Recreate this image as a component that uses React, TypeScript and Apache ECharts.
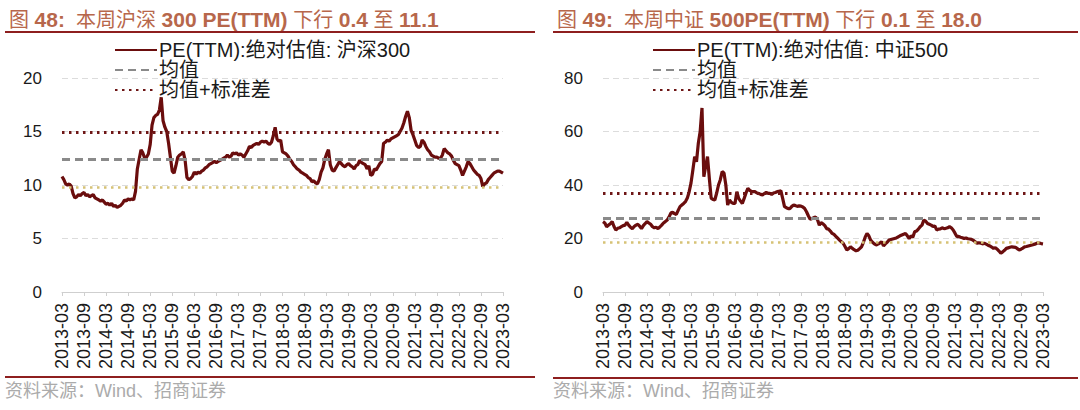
import React, { useEffect, useRef } from "react";
import * as echarts from "echarts";

// semi-monthly observations, 2013-03 .. 2023-03
const months: string[] = [];
for (let y = 2013; y <= 2023; y++) {
  for (let m = 1; m <= 12; m++) {
    if (y === 2013 && m < 3) continue;
    if (y === 2023 && m > 3) continue;
    const mm = (m < 10 ? "0" : "") + m;
    months.push(`${y}-${mm}-01`);
    if (!(y === 2023 && m === 3)) months.push(`${y}-${mm}-16`);
  }
}
const dates = months;

const hs300: number[] = [
  // 2013 Mar-Dec
  10.8, 10.5, 10.1, 10.0, 10.1, 9.9, 9.2, 8.8, 8.9, 9.1, 9.0, 9.2, 9.3, 9.0, 9.1, 8.9, 9.0, 9.1, 8.8, 8.7,
  // 2014
  8.6, 8.5, 8.6, 8.4, 8.2, 8.3, 8.1, 8.3, 8.0, 8.1, 7.9, 8.0, 8.1, 8.3, 8.6, 8.5, 8.7, 8.6, 8.7, 8.6, 9.4, 11.5, 12.4, 13.3,
  // 2015
  13.0, 12.5, 12.6, 12.9, 13.8, 15.6, 16.3, 16.5, 16.6, 17.0, 18.2, 16.0, 15.4, 15.0, 13.9, 12.6, 11.3, 11.1, 11.8, 12.6, 12.8, 12.9, 13.1, 12.3,
  // 2016
  10.7, 10.5, 10.6, 10.8, 11.2, 11.0, 11.2, 11.1, 11.3, 11.4, 11.6, 11.7, 11.9, 12.0, 12.1, 12.2, 12.1, 12.2, 12.3, 12.4, 12.5, 12.6, 12.8, 12.6,
  // 2017
  12.7, 13.0, 12.9, 13.0, 12.8, 12.9, 12.8, 12.6, 12.9, 13.2, 13.6, 13.5, 13.7, 13.8, 13.9, 13.8, 14.0, 14.1, 14.0, 14.1, 13.9, 13.8, 14.0, 14.6,
  // 2018
  15.4, 14.3, 14.1, 14.2, 13.1, 13.0, 12.9, 12.7, 12.4, 12.2, 11.9, 11.7, 11.5, 11.4, 11.2, 11.1, 11.0, 10.9, 10.7, 10.6, 10.3, 10.4, 10.2, 10.1,
  // 2019
  10.5, 11.2, 11.6, 12.4, 12.9, 13.3, 11.9, 11.4, 11.3, 11.6, 11.9, 12.2, 12.0, 11.8, 11.7, 11.9, 12.0, 11.8, 11.7, 11.5, 11.8, 11.9, 12.3, 12.1,
  // 2020
  12.0, 11.9, 11.5, 11.8, 10.9, 11.0, 11.5, 11.4, 11.7, 12.0, 12.2, 13.9, 14.0, 14.2, 14.1, 14.3, 14.4, 14.5, 14.6, 14.7, 15.0, 15.3, 15.8, 16.4,
  // 2021
  16.9, 16.3, 15.1, 14.7, 14.2, 13.7, 13.5, 13.6, 14.2, 14.0, 13.6, 13.3, 13.1, 12.8, 12.7, 12.6, 12.6, 12.5, 12.5, 12.8, 13.4, 13.2, 13.0, 12.9,
  // 2022
  12.7, 12.3, 12.0, 11.9, 11.8, 11.4, 10.9, 11.3, 11.7, 12.2, 12.0, 11.7, 11.4, 11.2, 11.0, 10.9, 10.6, 9.85, 10.1, 10.2, 10.5, 10.7, 10.9, 11.1,
  // 2023 Jan-Mar
  11.2, 11.3, 11.3, 11.2, 11.1,
];

const zz500: number[] = [
  // 2013 Mar-Dec
  26.3, 25.8, 24.4, 25.0, 25.5, 26.3, 24.5, 23.2, 23.8, 24.0, 24.4, 24.8, 25.0, 26.0, 25.0, 24.2, 23.7, 24.5, 25.0, 25.3,
  // 2014
  24.6, 23.7, 24.8, 25.6, 26.3, 25.8, 25.3, 24.4, 24.0, 24.2, 23.7, 24.3, 25.0, 25.8, 26.3, 26.9, 28.0, 29.5, 29.8, 29.3, 29.0, 30.5, 31.9, 32.5,
  // 2015
  33.1, 33.8, 35.1, 37.5, 40.7, 45.5, 50.6, 48.7, 55.6, 60.0, 68.8, 43.1, 47.0, 50.6, 42.5, 35.1, 34.6, 34.4, 37.0, 40.0, 42.0, 45.0, 44.5, 40.0,
  // 2016
  32.5, 34.4, 33.5, 33.1, 33.1, 37.5, 35.0, 34.0, 33.1, 35.0, 37.0, 38.8, 38.0, 37.6, 37.5, 37.5, 37.0, 36.8, 36.5, 36.3, 36.8, 37.2, 36.9, 36.9,
  // 2017
  36.5, 37.0, 37.2, 37.5, 37.6, 37.9, 35.0, 31.9, 31.5, 31.2, 31.2, 32.0, 32.5, 32.3, 32.0, 32.2, 32.1, 31.8, 31.2, 30.0, 28.5, 27.2, 27.5, 27.8,
  // 2018
  28.0, 27.0, 25.0, 25.9, 25.5, 24.8, 23.7, 23.5, 22.8, 21.9, 21.5, 20.8, 20.1, 19.4, 18.8, 18.2, 17.0, 15.7, 16.2, 16.9, 16.3, 15.8, 15.4, 15.6,
  // 2019
  16.2, 16.9, 18.5, 20.5, 21.9, 21.0, 19.4, 18.6, 18.0, 17.6, 17.9, 18.3, 18.8, 17.2, 18.0, 18.6, 19.4, 19.6, 19.8, 20.0, 20.2, 20.6, 21.0, 21.3,
  // 2020
  21.6, 21.9, 21.0, 20.0, 21.0, 20.5, 22.5, 22.8, 23.5, 24.4, 25.0, 26.9, 26.5, 25.6, 25.3, 25.0, 24.5, 24.7, 23.2, 23.5, 23.6, 24.0, 23.7, 23.8,
  // 2021
  24.0, 24.4, 24.0, 23.2, 22.0, 20.7, 20.8, 20.5, 20.3, 20.0, 20.2, 19.9, 19.8, 19.7, 19.3, 18.8, 18.2, 18.4, 18.3, 18.0, 18.2, 17.9, 17.5, 17.2,
  // 2022
  16.8, 16.3, 16.6, 16.0, 15.3, 14.5, 15.0, 15.6, 16.3, 16.5, 16.7, 16.9, 16.8, 16.7, 16.2, 15.7, 16.0, 16.4, 16.9, 17.0, 17.2, 17.4, 17.6, 17.8,
  // 2023 Jan-Mar
  18.0, 18.4, 18.3, 18.1, 18.0,
];

const HS_MEAN = 12.4;
const HS_MEAN_PLUS = 14.95;
const HS_MEAN_MINUS = 9.8;
const ZZ_MEAN = 27.75;
const ZZ_MEAN_PLUS = 36.9;
const ZZ_MEAN_MINUS = 18.75;

const hsYTicks = { min: 0, max: 20, interval: 5 };
const zzYTicks = { min: 0, max: 80, interval: 20 };

const NAME_HS = "PE(TTM):绝对估值: 沪深300";
const NAME_ZZ = "PE(TTM):绝对估值: 中证500";
const NAME_MEAN = "均值";
const NAME_PLUS = "均值+标准差";

const FONT = '"Liberation Sans", Arial, "Noto Sans CJK SC", sans-serif';
const MAIN = "#6a0d0d";
const GREY = "#8a8a8a";
const DOT_RED = "#6e1616";
const DOT_YEL = "#d6c276";
const TITLE_C = "#b7674b";
const RULE = "#8e1f1f";

export default function App() {
  const ref = useRef<HTMLDivElement>(null);
  useEffect(() => {
    if (!ref.current) return;
    const chart = echarts.init(ref.current, undefined, { renderer: "svg" });

    const titleRich = {
      n: { fontFamily: FONT, fontSize: 20, color: TITLE_C, fontWeight: "normal" },
      b: { fontFamily: FONT, fontSize: 21, color: TITLE_C, fontWeight: "bold" },
    };

    const xAxisBase = (gridIndex: number) => ({
      type: "category",
      gridIndex,
      data: dates,
      boundaryGap: false,
      axisLine: { show: true, lineStyle: { color: "#cfcfcf", width: 1 } },
      axisTick: { show: true, interval: 11, length: 4, lineStyle: { color: "#cfcfcf" } },
      axisLabel: {
        interval: 11,
        rotate: 90,
        margin: 11,
        fontSize: 18,
        fontFamily: FONT,
        color: "#1a1a1a",
        formatter: (v: string) => v.slice(0, 7),
      },
      splitLine: { show: false },
    });

    const yAxisBase = (gridIndex: number, t: { min: number; max: number; interval: number }) => ({
      type: "value",
      gridIndex,
      min: t.min,
      max: t.max,
      interval: t.interval,
      axisLine: { show: false },
      axisTick: { show: false },
      axisLabel: { fontSize: 17, fontFamily: FONT, color: "#1a1a1a", margin: 20 },
      splitLine: { show: true, lineStyle: { color: "#dcdcdc", type: [6, 4], width: 1 } },
    });

    const refLine = (
      name: string,
      idx: number,
      value: number,
      color: string,
      type: any,
      width: number
    ) => ({
      name,
      type: "line",
      xAxisIndex: idx,
      yAxisIndex: idx,
      data: [],
      symbol: "none",
      lineStyle: { color, type, width },
      itemStyle: { color },
      markLine: {
        silent: true,
        symbol: ["none", "none"],
        label: { show: false },
        lineStyle: { color, type, width },
        data: [{ yAxis: value }],
      },
    });

    const legendBase = (left: number, data: string[]) => ({
      orient: "vertical",
      left,
      top: 35,
      itemWidth: 42,
      itemHeight: 14,
      itemGap: 0,
      itemStyle: { opacity: 0 },
      textStyle: { fontSize: 20, fontFamily: FONT, color: "#1a1a1a", lineHeight: 20, padding: [0, 0, 0, -3] },
      data,
    });

    chart.setOption({
      animation: false,
      title: [
        {
          left: 4,
          top: 4,
          text: "{n|图 }{b|48:}{n|  本周沪深 }{b|300 PE(TTM)}{n| 下行 }{b|0.4}{n| 至 }{b|11.1}",
          textStyle: { rich: titleRich },
        },
        {
          left: 552,
          top: 4,
          text: "{n|图 }{b|49:}{n|  本周中证 }{b|500PE(TTM)}{n| 下行 }{b|0.1}{n| 至 }{b|18.0}",
          textStyle: { rich: titleRich },
        },
      ],
      graphic: [
        { type: "line", shape: { x1: 5, y1: 32, x2: 535, y2: 32 }, style: { stroke: RULE, lineWidth: 2 } },
        { type: "line", shape: { x1: 553, y1: 32, x2: 1078, y2: 32 }, style: { stroke: RULE, lineWidth: 2 } },
        { type: "line", shape: { x1: 5, y1: 377, x2: 535, y2: 377 }, style: { stroke: RULE, lineWidth: 2 } },
        { type: "line", shape: { x1: 553, y1: 378, x2: 1078, y2: 378 }, style: { stroke: RULE, lineWidth: 2 } },
        {
          type: "text",
          left: 5,
          top: 382,
          style: { text: "资料来源：Wind、招商证券", fill: "#ababab", font: `18px ${FONT}` },
        },
        {
          type: "text",
          left: 553,
          top: 382,
          style: { text: "资料来源：Wind、招商证券", fill: "#ababab", font: `18px ${FONT}` },
        },
      ],
      legend: [legendBase(109, [NAME_HS, NAME_MEAN, NAME_PLUS]), legendBase(647, [NAME_ZZ, NAME_MEAN, NAME_PLUS])],
      grid: [
        { left: 62, top: 78, width: 441, height: 214, containLabel: false },
        { left: 603, top: 78, width: 440, height: 214, containLabel: false },
      ],
      xAxis: [xAxisBase(0), xAxisBase(1)],
      yAxis: [yAxisBase(0, hsYTicks), yAxisBase(1, zzYTicks)],
      series: [
        refLine(NAME_MEAN, 0, HS_MEAN, GREY, [8, 5], 3),
        refLine(NAME_PLUS, 0, HS_MEAN_PLUS, DOT_RED, [2.5, 4.5], 3),
        refLine("均值-标准差", 0, HS_MEAN_MINUS, DOT_YEL, [2.5, 4.5], 2.5),
        {
          name: NAME_HS,
          type: "line",
          xAxisIndex: 0,
          yAxisIndex: 0,
          data: hs300,
          symbol: "none",
          lineStyle: { color: MAIN, width: 3.2 },
          itemStyle: { color: MAIN },
        },
        refLine(NAME_MEAN, 1, ZZ_MEAN, GREY, [8, 5], 3),
        refLine(NAME_PLUS, 1, ZZ_MEAN_PLUS, DOT_RED, [2.5, 4.5], 3),
        refLine("均值-标准差", 1, ZZ_MEAN_MINUS, DOT_YEL, [2.5, 4.5], 2.5),
        {
          name: NAME_ZZ,
          type: "line",
          xAxisIndex: 1,
          yAxisIndex: 1,
          data: zz500,
          symbol: "none",
          lineStyle: { color: MAIN, width: 3.2 },
          itemStyle: { color: MAIN },
        },
      ],
    });
    return () => chart.dispose();
  }, []);
  return (
    <div
      ref={ref}
      style={{ position: "absolute", left: 0, top: 0, width: 1080, height: 410, background: "#fff" }}
    />
  );
}
